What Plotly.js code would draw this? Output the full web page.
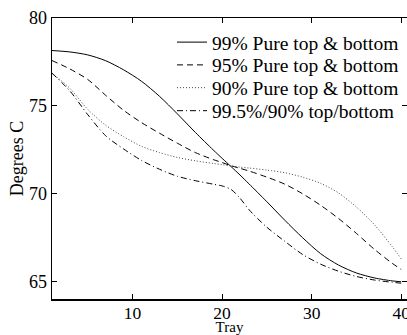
<!DOCTYPE html>
<html>
<head>
<meta charset="utf-8">
<script src="https://cdn.plot.ly/plotly-3.0.1.min.js"></script>
<style>
html,body{margin:0;padding:0;background:#fff;}
#chart{width:407px;height:335px;}
</style>
</head>
<body>
<div id="chart"></div>
<script>
const trays = [1,3,5,7,9,11,13,15,17,19,20,21,22,23,25,27,29,31,33,35,37,39,40];
const pure99 = [78.15,78.07,77.9,77.57,77.05,76.4,75.55,74.55,73.5,72.5,72.02,71.55,71.07,70.57,69.55,68.5,67.5,66.6,65.95,65.5,65.22,65.05,65.0];
const pure95 = [77.58,77.1,76.5,75.6,74.75,74.05,73.45,72.88,72.35,71.95,71.78,71.6,71.45,71.3,70.95,70.55,70.0,69.35,68.6,67.75,66.85,66.05,65.7];
const pure90 = [76.86,76.0,74.8,73.9,73.25,72.7,72.35,72.07,71.88,71.73,71.66,71.58,71.52,71.47,71.35,71.2,70.95,70.6,70.05,69.25,68.25,67.0,66.3];
const mixed  = [76.86,75.85,74.5,73.3,72.55,71.9,71.4,71.0,70.75,70.55,70.45,70.25,69.75,69.1,68.1,67.3,66.55,66.0,65.6,65.3,65.1,64.97,64.92];
const names = ["99% Pure top & bottom","95% Pure top & bottom","90% Pure top & bottom","99.5%/90% top/bottom"];
const xTicks = [10,20,30,40];
const yTicks = [65,70,75,80];

const font = "Liberation Serif, Times New Roman, serif";
const series = [pure99, pure95, pure90, mixed];
const dashes = ["solid","6px,4px","1px,2px","6px,3px,1px,3px"];
const colors = ["#000","#000","#444","#000"];
const legendIds = ["legend","legend2","legend3","legend4"];
const legendRows = [0.913, 0.832, 0.751, 0.669];

const traces = series.map((s,i)=>({
  x: trays, y: s, name: names[i], type: "scatter", mode: "lines",
  legend: legendIds[i],
  line: {color: colors[i], width: 1, dash: dashes[i], shape: "spline", smoothing: 0.8}
}));

const layout = {
  width: 407, height: 335,
  margin: {l: 52, r: 0, t: 18, b: 36},
  paper_bgcolor: "#fff", plot_bgcolor: "#fff",
  font: {family: font, color: "#000", size: 18},
  showlegend: true,
  xaxis: {
    range: [1, 40.65], tickvals: xTicks, ticktext: xTicks.map(String),
    ticks: "inside", ticklen: 5, tickcolor: "#000", tickwidth: 1,
    showline: true, linecolor: "#000", linewidth: 1.5, mirror: "allticks",
    showgrid: false, zeroline: false, ticklabeloverflow: "allow",
    ticklabelstandoff: -3,
    tickfont: {family: font, size: 17.5},
    title: {text: "Tray", font: {family: font, size: 15}, standoff: 4}
  },
  yaxis: {
    range: [64.02, 80], tickvals: yTicks, ticktext: yTicks.map(String),
    ticks: "inside", ticklen: 5, tickcolor: "#000", tickwidth: 1,
    showline: true, linecolor: "#000", linewidth: 1.5, mirror: "allticks",
    showgrid: false, zeroline: false,
    tickfont: {family: font, size: 18},
    title: {text: "Degrees C", font: {family: font, size: 18}, standoff: 0}
  }
};
legendIds.forEach((id,i)=>{
  layout[id] = {x: 0.338, y: legendRows[i], xanchor: "left", yanchor: "middle",
    bgcolor: "rgba(0,0,0,0)", borderwidth: 0, itemwidth: 30,
    font: {family: font, size: 19.5, color: "#000"}};
});
Plotly.newPlot("chart", traces, layout, {displayModeBar: false, staticPlot: true});
</script>
</body>
</html>
